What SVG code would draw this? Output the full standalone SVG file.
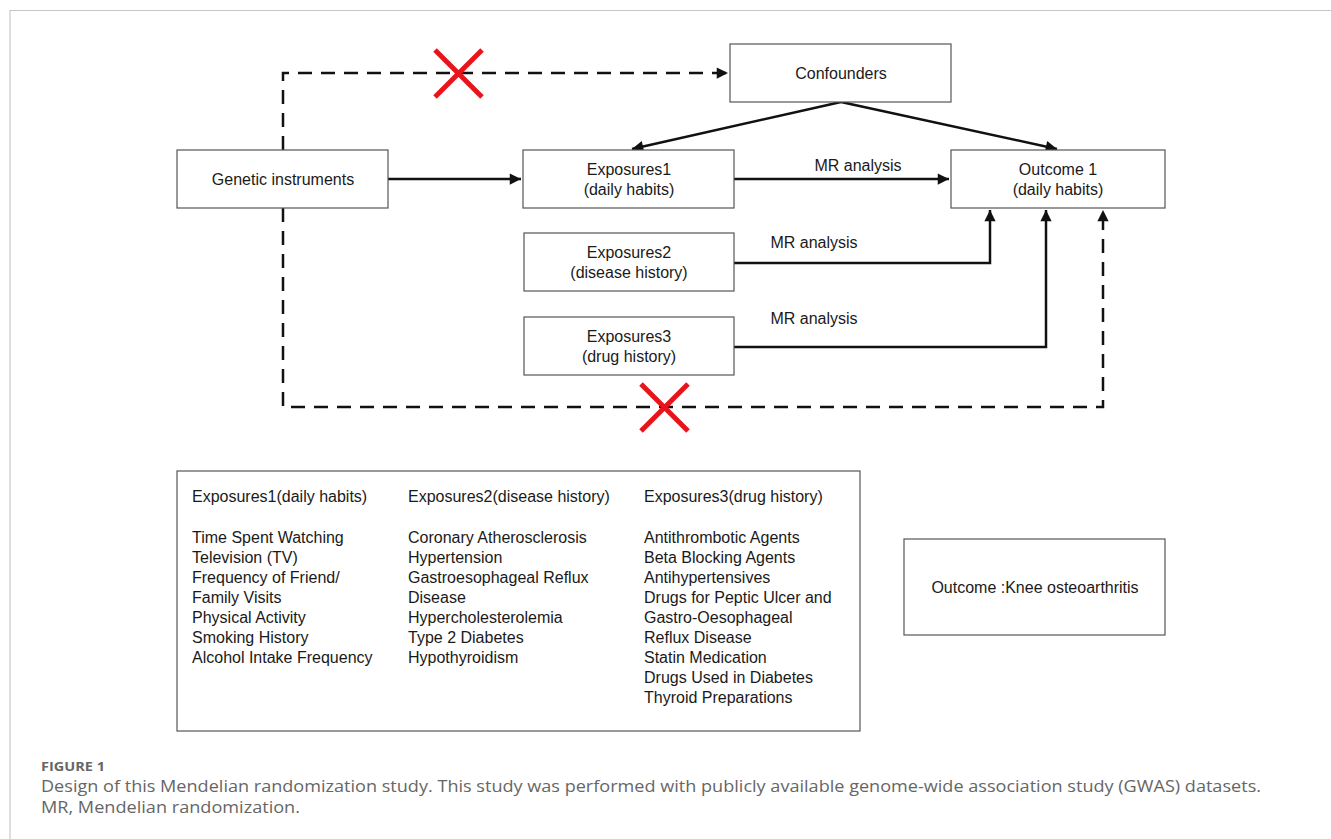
<svg xmlns="http://www.w3.org/2000/svg" width="1331" height="839" viewBox="0 0 1331 839">
<defs>
<marker id="ah" viewBox="0 0 10 10" refX="10" refY="5" markerWidth="5" markerHeight="4.5" markerUnits="strokeWidth" orient="auto">
<path d="M0,0 L10,5 L0,10 z" fill="#111"/>
</marker>
<style>
.box{fill:#fff;stroke:#555;stroke-width:1.2}
.t{font-family:"Liberation Sans",Arial,sans-serif;font-size:16px;fill:#1a1a1a}
.c{text-anchor:middle}
.ln{fill:none;stroke:#111;stroke-width:2.5}
.dash{fill:none;stroke:#111;stroke-width:2.5;stroke-dasharray:14 9}
.x{stroke:#e8141c;stroke-width:5;stroke-linecap:butt}
.cap{font-family:"Open Sans","Noto Sans",sans-serif;fill:#666}
</style>
</defs>
<rect width="1331" height="839" fill="#fff"/>
<path d="M10,839 V10.5 H1331" fill="none" stroke="#c8c8c8" stroke-width="1.2"/>

<g id="connectors">
<path class="dash" d="M283,150 V73 H728" marker-end="url(#ah)"/>
<path class="dash" d="M283,208 V407 H1103 V210" marker-end="url(#ah)"/>
<path class="ln" d="M388,179 H521" marker-end="url(#ah)"/>
<path class="ln" d="M734,179 H949" marker-end="url(#ah)"/>
<path class="ln" d="M841,102 L632,149" marker-end="url(#ah)"/>
<path class="ln" d="M841,102 L1057,149" marker-end="url(#ah)"/>
<path class="ln" d="M734,263 H990 V210" marker-end="url(#ah)"/>
<path class="ln" d="M734,347 H1046 V210" marker-end="url(#ah)"/>
<text class="t c" x="858" y="171">MR analysis</text>
<text class="t c" x="814" y="248">MR analysis</text>
<text class="t c" x="814" y="324">MR analysis</text>
</g>

<g id="cross-top">
<line class="x" x1="435" y1="50" x2="482" y2="97"/>
<line class="x" x1="482" y1="50" x2="435" y2="97"/>
</g>
<g id="cross-bottom">
<line class="x" x1="641" y1="384" x2="688" y2="431"/>
<line class="x" x1="688" y1="384" x2="641" y2="431"/>
</g>

<g id="genetic">
<rect class="box" x="177" y="150" width="211" height="58"/>
<text class="t c" x="283" y="185">Genetic instruments</text>
</g>
<g id="confounders">
<rect class="box" x="730" y="44" width="221" height="58"/>
<text class="t c" x="841" y="79">Confounders</text>
</g>
<g id="exposures1">
<rect class="box" x="523" y="150" width="211" height="58"/>
<text class="t c" x="629" y="175">Exposures1</text>
<text class="t c" x="629" y="195">(daily habits)</text>
</g>
<g id="outcome1">
<rect class="box" x="951" y="150" width="214" height="58"/>
<text class="t c" x="1058" y="175">Outcome 1</text>
<text class="t c" x="1058" y="195">(daily habits)</text>
</g>
<g id="exposures2">
<rect class="box" x="524" y="233" width="210" height="58"/>
<text class="t c" x="629" y="258">Exposures2</text>
<text class="t c" x="629" y="278">(disease history)</text>
</g>
<g id="exposures3">
<rect class="box" x="524" y="317" width="210" height="58"/>
<text class="t c" x="629" y="342">Exposures3</text>
<text class="t c" x="629" y="362">(drug history)</text>
</g>

<g id="legend">
<rect class="box" x="177" y="471" width="683" height="260"/>
<g class="t">
<text x="192" y="502">Exposures1(daily habits)</text>
<text x="192" y="543">Time Spent Watching</text>
<text x="192" y="563">Television (TV)</text>
<text x="192" y="583">Frequency of Friend/</text>
<text x="192" y="603">Family Visits</text>
<text x="192" y="623">Physical Activity</text>
<text x="192" y="643">Smoking History</text>
<text x="192" y="663">Alcohol Intake Frequency</text>
<text x="408" y="502">Exposures2(disease history)</text>
<text x="408" y="543">Coronary Atherosclerosis</text>
<text x="408" y="563">Hypertension</text>
<text x="408" y="583">Gastroesophageal Reflux</text>
<text x="408" y="603">Disease</text>
<text x="408" y="623">Hypercholesterolemia</text>
<text x="408" y="643">Type 2 Diabetes</text>
<text x="408" y="663">Hypothyroidism</text>
<text x="644" y="502">Exposures3(drug history)</text>
<text x="644" y="543">Antithrombotic Agents</text>
<text x="644" y="563">Beta Blocking Agents</text>
<text x="644" y="583">Antihypertensives</text>
<text x="644" y="603">Drugs for Peptic Ulcer and</text>
<text x="644" y="623">Gastro-Oesophageal</text>
<text x="644" y="643">Reflux Disease</text>
<text x="644" y="663">Statin Medication</text>
<text x="644" y="683">Drugs Used in Diabetes</text>
<text x="644" y="703">Thyroid Preparations</text>
</g>
</g>

<g id="outcome-knee">
<rect class="box" x="904" y="539" width="261" height="96"/>
<text class="t c" x="1035" y="593">Outcome :Knee osteoarthritis</text>
</g>

<g id="caption">
<text class="cap" x="41" y="771" font-size="13" font-weight="bold" fill="#555" textLength="64" lengthAdjust="spacingAndGlyphs">FIGURE 1</text>
<text class="cap" x="41" y="792" font-size="17" textLength="1220" lengthAdjust="spacingAndGlyphs">Design of this Mendelian randomization study. This study was performed with publicly available genome-wide association study (GWAS) datasets.</text>
<text class="cap" x="41" y="813" font-size="17" textLength="259" lengthAdjust="spacingAndGlyphs">MR, Mendelian randomization.</text>
</g>
</svg>
